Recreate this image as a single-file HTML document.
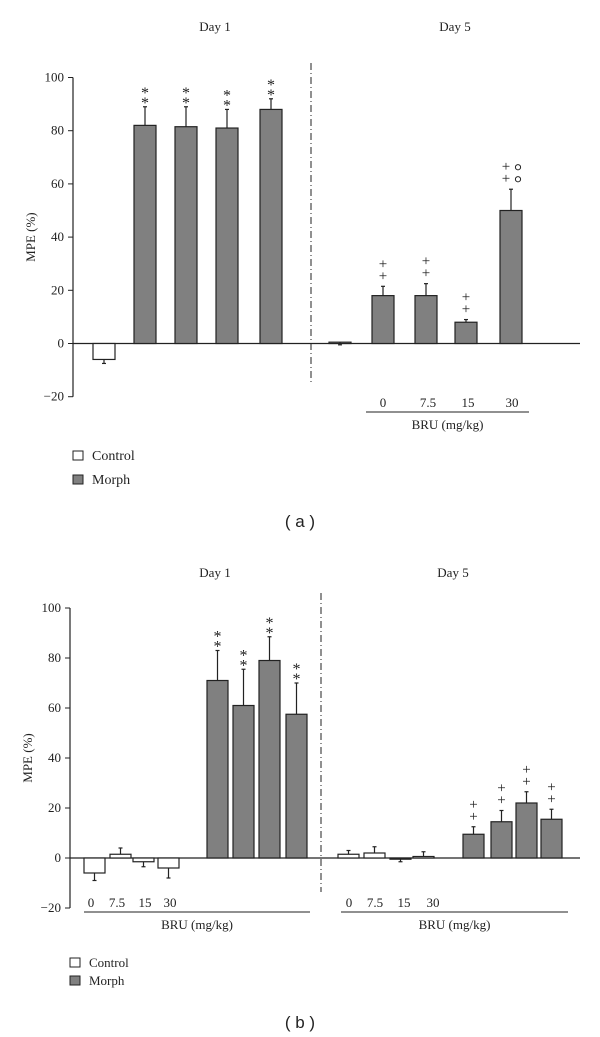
<!DOCTYPE html>
<html><head><meta charset="utf-8"><style>
body{margin:0;background:#fff;}
svg{display:block;font-family:"Liberation Serif",serif;}
</style></head><body>
<svg id="c" width="600" height="1037" viewBox="0 0 600 1037" xmlns="http://www.w3.org/2000/svg"></svg>
<script>
// Panel (a) data
const aCats = ["ctrl-d1","m0-d1","m7.5-d1","m15-d1","m30-d1","ctrl-d5","m0-d5","m7.5-d5","m15-d5","m30-d5"];
const aVals = [-6, 82, 81.5, 81, 88, 0.5, 18, 18, 8, 50];
const aErrs = [-7.5, 89, 89, 88, 92, -0.5, 21.5, 22.5, 9, 58];
const aGroup = ["c","m","m","m","m","c","m","m","m","m"];
const aMarks = ["","**","**","**","**","","++","++","++","++o"];
// Panel (b) data
const bCats = ["c0-d1","c7.5-d1","c15-d1","c30-d1","m0-d1","m7.5-d1","m15-d1","m30-d1","c0-d5","c7.5-d5","c15-d5","c30-d5","m0-d5","m7.5-d5","m15-d5","m30-d5"];
const bVals = [-6, 1.5, -1.5, -4, 71, 61, 79, 57.5, 1.5, 2, -0.3, 0.6, 9.5, 14.5, 22, 15.5];
const bErrs = [-9, 4, -3.5, -8, 83, 75.5, 88.5, 70, 3, 4.5, -1.5, 2.5, 12.5, 19, 26.5, 19.5];
const bGroup = ["c","c","c","c","m","m","m","m","c","c","c","c","m","m","m","m"];
const bMarks = ["","","","","**","**","**","**","","","","","++","++","++","++"];
const yTicks = [100, 80, 60, 40, 20, 0, -20];
const doseLabels = ["0","7.5","15","30"];

const NS="http://www.w3.org/2000/svg";
const svg=document.getElementById('c');
function mk(tag,attrs,parent){const e=document.createElementNS(NS,tag);for(const k in attrs)e.setAttribute(k,attrs[k]);(parent||svg).appendChild(e);return e;}
function txt(x,y,s,size,anchor,parent){const t=mk('text',{x:x,y:y,'font-size':size,'text-anchor':anchor||'middle',fill:'#222'},parent);t.textContent=s;return t;}

function panel(cfg){
  const g=mk('g',{});
  
  
  const y=v=>cfg.y0-(v)*cfg.k;
  const ax=mk('line',{x1:cfg.ax,y1:y(100),x2:cfg.ax,y2:y(-20),stroke:'#222','stroke-width':1.2},g);
  
  
  yTicks.forEach(t=>{
    mk('line',{x1:cfg.ax-5,y1:y(t),x2:cfg.ax,y2:y(t),stroke:'#222','stroke-width':1},g);
    const lb=txt(cfg.ax-9,y(t)+4,t<0?'\u221220':String(t),13,'end',g);
    
    
  });
  const yt=txt(0,0,'MPE (%)',13,'middle',g);
  yt.setAttribute('transform',`translate(${cfg.ax-38},${y(40)}) rotate(-90)`);
  
  
  mk('line',{x1:cfg.ax,y1:y(0),x2:580,y2:y(0),stroke:'#222','stroke-width':1.2},g);
  const dv=mk('line',{x1:cfg.div,y1:cfg.divTop,x2:cfg.div,y2:cfg.divBot,stroke:'#222','stroke-width':1,'stroke-dasharray':'7,3,1,3'},g);
  
  
  cfg.vals.forEach((v,i)=>{
    const x=cfg.xs[i], w=cfg.w;
    const top=Math.min(y(v),y(0)), h=Math.max(Math.abs(y(v)-y(0)),1.2);
    const r=mk('rect',{x:x,y:top,width:w,height:h,fill:cfg.grp[i]==='m'?'#808080':'#fff',stroke:'#222','stroke-width':1.2},g);
    
    
    const cx=x+w/2, e=cfg.errs[i];
    mk('line',{x1:cx,y1:y(v),x2:cx,y2:y(e),stroke:'#222','stroke-width':1.2},g);
    mk('line',{x1:cx-2,y1:y(e),x2:cx+2,y2:y(e),stroke:'#222','stroke-width':1.2},g);
    const m=cfg.marks[i];
    if(m){
      const sym=m.startsWith('*')?'*':'+';
      const sz=sym==='*'?16:15;
      const base=y(Math.max(e,v))-6;
      const dy=sym==='*'?10:12;
      const off=m.endsWith('o')?-5:0;
      txt(cx+off,base+(sym==='*'?7:0),sym,sz,'middle',g);
      txt(cx+off,base-dy+(sym==='*'?7:0),sym,sz,'middle',g);
      if(m.endsWith('o')){
        mk('circle',{cx:cx+7,cy:base-4,r:2.6,fill:'none',stroke:'#222','stroke-width':1},g);
        mk('circle',{cx:cx+7,cy:base-4-dy,r:2.6,fill:'none',stroke:'#222','stroke-width':1},g);
      }
    }
  });
  cfg.doseGroups.forEach(dg=>{
    dg.xs.forEach((x,j)=>txt(x,dg.ly,doseLabels[j],13,'middle',g));
    mk('line',{x1:dg.u1,y1:dg.uy,x2:dg.u2,y2:dg.uy,stroke:'#222','stroke-width':1},g);
    const bl=txt((dg.u1+dg.u2)/2,dg.uy+17,'BRU (mg/kg)',13,'middle',g);
    
    
  });
  const d1=txt(cfg.day1x,cfg.dayY,'Day 1',13,'middle',g);
  
  
  const d5=txt(cfg.day5x,cfg.dayY,'Day 5',13,'middle',g);
  
  
  const lg=mk('g',{},g);
  
  
  mk('rect',{x:cfg.legX,y:cfg.legY,width:10,height:9,fill:'#fff',stroke:'#222','stroke-width':1},lg);
  txt(cfg.legX+19,cfg.legY+9,'Control',cfg.legFs,'start',lg);
  mk('rect',{x:cfg.legX,y:cfg.legY+cfg.legGap,width:10,height:9,fill:'#808080',stroke:'#222','stroke-width':1},lg);
  txt(cfg.legX+19,cfg.legY+cfg.legGap+9,'Morph',cfg.legFs,'start',lg);
  const pl=mk('text',{x:300,y:cfg.plY,'font-size':17,'text-anchor':'middle',fill:'#222','font-family':'Liberation Sans, sans-serif'},g);
  pl.textContent=cfg.pl;
  
  
}

panel({name:'panel-a',cats:aCats,vals:aVals,errs:aErrs,grp:aGroup,marks:aMarks,
  ax:73,y0:343.5,k:2.66,w:22,
  xs:[93,134,175,216,260,329,372,415,455,500],
  div:311,divTop:63,divBot:382,
  doseGroups:[{xs:[383,428,468,512],ly:407,u1:366,u2:529,uy:412}],
  day1x:215,day5x:455,dayY:31,legX:73,legY:451,legGap:24,legFs:14,pl:'( a )',plY:527});

panel({name:'panel-b',cats:bCats,vals:bVals,errs:bErrs,grp:bGroup,marks:bMarks,
  ax:70,y0:858,k:2.5,w:21,
  xs:[84,110,133,158,207,233,259,286,338,364,390,413,463,491,516,541],
  div:321,divTop:593,divBot:892,
  doseGroups:[{xs:[91,117,145,170,217,244,271,297],ly:907,u1:84,u2:310,uy:912},
              {xs:[349,375,404,433,475,502,527,553],ly:907,u1:341,u2:568,uy:912}],
  day1x:215,day5x:453,dayY:577,legX:70,legY:958,legGap:18,legFs:13,pl:'( b )',plY:1028});
</script>
</body></html>
